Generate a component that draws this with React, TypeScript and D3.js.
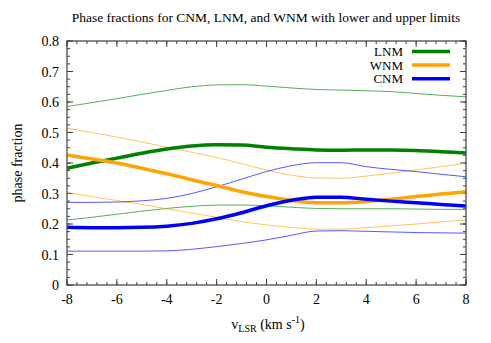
import React from "react";
import * as d3 from "d3";

const vlsr = [-8, -7, -6, -5, -4, -3, -2, -1, 0, 1, 2, 3, 4, 5, 6, 7, 8];

const lnm = [0.383, 0.4, 0.416, 0.432, 0.446, 0.456, 0.46, 0.459, 0.452, 0.447, 0.443, 0.442, 0.443, 0.443, 0.441, 0.437, 0.433];
const lnmUp = [0.585, 0.598, 0.611, 0.625, 0.638, 0.65, 0.656, 0.657, 0.652, 0.646, 0.641, 0.639, 0.637, 0.634, 0.628, 0.622, 0.617];
const lnmLo = [0.213, 0.222, 0.232, 0.242, 0.251, 0.258, 0.262, 0.262, 0.26, 0.255, 0.251, 0.25, 0.25, 0.25, 0.249, 0.248, 0.248];

const wnm = [0.426, 0.413, 0.4, 0.383, 0.365, 0.345, 0.326, 0.306, 0.29, 0.277, 0.27, 0.27, 0.274, 0.281, 0.29, 0.298, 0.306];
const wnmUp = [0.514, 0.5, 0.485, 0.469, 0.452, 0.435, 0.418, 0.398, 0.377, 0.36, 0.351, 0.35, 0.357, 0.367, 0.377, 0.388, 0.399];
const wnmLo = [0.303, 0.29, 0.277, 0.264, 0.25, 0.236, 0.222, 0.208, 0.197, 0.189, 0.183, 0.183, 0.188, 0.194, 0.2, 0.207, 0.213];

const cnm = [0.189, 0.188, 0.188, 0.189, 0.193, 0.202, 0.217, 0.237, 0.26, 0.278, 0.288, 0.288, 0.281, 0.275, 0.27, 0.264, 0.259];
const cnmUp = [0.271, 0.271, 0.272, 0.276, 0.284, 0.3, 0.322, 0.347, 0.372, 0.391, 0.401, 0.401, 0.388, 0.379, 0.372, 0.363, 0.355];
const cnmLo = [0.111, 0.111, 0.111, 0.111, 0.112, 0.117, 0.126, 0.136, 0.148, 0.163, 0.177, 0.178, 0.176, 0.174, 0.172, 0.171, 0.17];

const xTicks = [-8, -6, -4, -2, 0, 2, 4, 6, 8];
const yTicks = [0, 0.1, 0.2, 0.3, 0.4, 0.5, 0.6, 0.7, 0.8];

const series = [
  { name: "LNM", color: "#008000", mid: lnm, up: lnmUp, lo: lnmLo },
  { name: "WNM", color: "#ffa500", mid: wnm, up: wnmUp, lo: wnmLo },
  { name: "CNM", color: "#0000ff", mid: cnm, up: cnmUp, lo: cnmLo },
];

const serif =
  '"Liberation Serif", "DejaVu Serif", "Times New Roman", Times, "Nimbus Roman", "Noto Serif", FreeSerif, serif';

export default function App() {
  const width = 491;
  const height = 343;
  const margin = { top: 41, right: 25, bottom: 58, left: 67 };
  const innerW = width - margin.left - margin.right;
  const innerH = height - margin.top - margin.bottom;

  const x = d3.scaleLinear().domain([-8, 8]).range([0, innerW]);
  const y = d3.scaleLinear().domain([0, 0.8]).range([innerH, 0]);

  const line = (vals: number[]) =>
    d3
      .line<number>()
      .x((_, i) => x(vlsr[i]))
      .y((d) => y(d))
      .curve(d3.curveMonotoneX)(vals) || "";

  const xMinor = d3.range(-8, 8.001, 0.4);
  const yMinor = d3.range(0, 0.8001, 0.025);
  const axisColor = "#404040";
  const fs = 14;

  return (
    <svg
      width={width}
      height={height}
      style={{ position: "absolute", left: 0, top: 0, background: "#fff" }}
    >
      <g fontFamily={serif} fill="#000">
        <text x={266} y={22} textAnchor="middle" fontSize={13.5}>
          Phase fractions for CNM, LNM, and WNM with lower and upper limits
        </text>
        <g transform={`translate(${margin.left},${margin.top})`}>
          {xMinor.map((v, i) => (
            <g key={"xm" + i} stroke={axisColor} strokeWidth={1}>
              <line x1={x(v)} x2={x(v)} y1={innerH} y2={innerH - 3} />
              <line x1={x(v)} x2={x(v)} y1={0} y2={3} />
            </g>
          ))}
          {yMinor.map((v, i) => (
            <g key={"ym" + i} stroke={axisColor} strokeWidth={1}>
              <line x1={0} x2={3} y1={y(v)} y2={y(v)} />
              <line x1={innerW} x2={innerW - 3} y1={y(v)} y2={y(v)} />
            </g>
          ))}
          {xTicks.map((v) => (
            <g key={"x" + v}>
              <line x1={x(v)} x2={x(v)} y1={innerH} y2={innerH - 6} stroke={axisColor} />
              <line x1={x(v)} x2={x(v)} y1={0} y2={6} stroke={axisColor} />
              <text x={x(v)} y={innerH + 19} textAnchor="middle" fontSize={fs}>
                {v}
              </text>
            </g>
          ))}
          {yTicks.map((v) => (
            <g key={"y" + v}>
              <line x1={0} x2={6} y1={y(v)} y2={y(v)} stroke={axisColor} />
              <line x1={innerW} x2={innerW - 6} y1={y(v)} y2={y(v)} stroke={axisColor} />
              <text x={-8} y={y(v) + 5} textAnchor="end" fontSize={fs}>
                {v === 0 ? "0" : v.toFixed(1)}
              </text>
            </g>
          ))}

          {series.map((s) => (
            <g key={s.name + "lim"} fill="none" stroke={s.color} strokeWidth={1} strokeOpacity={0.65}>
              <path d={line(s.up)} />
              <path d={line(s.lo)} />
            </g>
          ))}
          {series.map((s) => (
            <path key={s.name} d={line(s.mid)} fill="none" stroke={s.color} strokeWidth={3.5} />
          ))}

          <rect x={0} y={0} width={innerW} height={innerH} fill="none" stroke={axisColor} strokeWidth={1.2} />

          {series.map((s, i) => (
            <g key={s.name + "leg"} transform={`translate(0,${10.5 + i * 13.6})`}>
              <text x={336} y={4.5} textAnchor="end" fontSize={13}>
                {s.name}
              </text>
              <line x1={345} x2={383} y1={0} y2={0} stroke={s.color} strokeWidth={3.5} />
            </g>
          ))}
        </g>

        <text
          transform={`translate(22,${margin.top + innerH / 2}) rotate(-90)`}
          textAnchor="middle"
          fontSize={fs}
        >
          phase fraction
        </text>
        <text x={268} y={329} textAnchor="middle" fontSize={fs}>
          v<tspan fontSize={10} dy={3}>LSR</tspan>
          <tspan dy={-3}> (km s</tspan>
          <tspan fontSize={10} dy={-6}>-1</tspan>
          <tspan dy={6}>)</tspan>
        </text>
      </g>
    </svg>
  );
}
